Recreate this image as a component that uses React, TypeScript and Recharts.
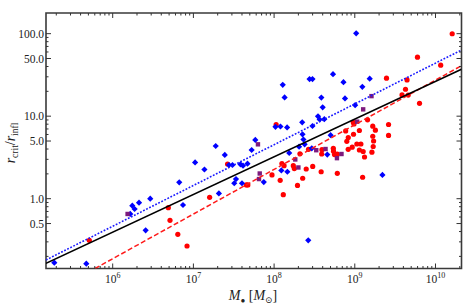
import { ReferenceArea, Scatter, ScatterChart, XAxis, YAxis } from "recharts";

// [M_bh (solar masses), r_crit / r_infl]
const bluePoints: [number, number][] = [
  [1.89e5, 0.168], [4.71e5, 0.163], [1.65e6, 0.653], [1.75e6, 0.823], [1.87e6, 0.75],
  [2.12e6, 0.895], [2.92e6, 1.0], [2.56e6, 0.414], [6.68e6, 1.58], [7.43e6, 0.839],
  [1.05e7, 2.75], [1.37e7, 2.26], [1.89e7, 4.35], [2.45e7, 3.39], [2.07e7, 1.16],
  [2.76e7, 2.56], [3.05e7, 2.56], [3.83e7, 2.61], [4.12e7, 2.51], [4.68e7, 2.66],
  [3.37e7, 1.73], [3.21e7, 1.54], [4.0e7, 1.54], [7.45e7, 1.59], [5.27e7, 3.89],
  [5.85e7, 5.15], [1.04e8, 7.44], [1.2e8, 7.5], [1.45e8, 7.3], [1.28e8, 24.0],
  [1.35e8, 16.9], [1.23e8, 2.2], [1.46e8, 2.12], [1.54e8, 3.58], [2.04e8, 4.27],
  [2.23e8, 8.43], [2.25e8, 6.03], [2.31e8, 5.22], [2.39e8, 4.56], [2.75e8, 28.2],
  [2.99e8, 28.2], [2.65e8, 0.313], [2.93e8, 4.08], [2.99e8, 7.6], [3.5e8, 9.97],
  [3.67e8, 9.12], [4.19e8, 9.2], [3.85e8, 16.8], [4.0e8, 12.8], [4.56e8, 3.43],
  [5.02e8, 5.88], [5.37e8, 32.3], [7.24e8, 25.8], [7.56e8, 16.4], [1.01e9, 13.6],
  [1.04e9, 101], [1.24e9, 22.7], [1.53e9, 28.5], [2.2e9, 1.94],
];

const redPoints: [number, number][] = [
  [5.13e5, 0.313], [4.89e6, 0.778], [5.13e6, 0.547], [6.41e6, 0.37], [8.34e6, 0.267],
  [1.59e7, 1.04], [2.65e7, 2.63], [4.53e7, 1.47], [4.73e7, 1.47], [9.42e7, 1.94],
  [1.06e8, 7.89], [1.19e8, 1.67], [1.3e8, 1.12], [1.25e8, 2.67], [1.33e8, 2.51],
  [1.73e8, 2.51], [1.78e8, 2.32], [2.09e8, 3.5], [1.95e8, 1.45], [2.26e8, 1.77],
  [2.5e8, 2.29], [2.67e8, 3.97], [3.01e8, 2.46], [3.83e8, 2.12], [3.89e8, 3.48],
  [3.92e8, 3.93], [5.42e8, 4.08], [5.45e8, 3.77], [5.61e8, 3.43], [6.07e8, 3.46],
  [6.07e8, 2.03], [7.96e8, 4.96], [8.3e8, 5.52], [8.28e8, 3.97], [7.71e8, 6.62],
  [9.29e8, 4.21], [9.64e8, 6.04], [9.58e8, 8.44], [9.77e8, 8.04], [1.06e9, 4.6],
  [1.19e9, 4.6], [1.14e9, 6.71], [1.14e9, 3.89], [1.27e9, 3.73], [1.32e9, 3.2],
  [1.25e9, 1.82], [1.44e9, 9.04], [1.63e9, 3.66], [1.67e9, 7.57], [1.8e9, 6.76],
  [1.67e9, 5.71], [1.71e9, 5.0], [1.69e9, 4.29], [2.47e9, 28.9], [2.62e9, 7.93],
  [2.62e9, 5.84], [4.44e9, 27.5], [4.25e9, 21.2], [3.85e9, 18.1], [4.59e9, 18.0],
  [5.98e9, 51.9], [6.34e9, 14.3], [1.16e10, 41.5], [1.61e10, 99.7],
];

const purplePoints: [number, number][] = [
  [1.53e6, 0.653], [6.31e7, 4.56], [6.64e7, 2.02], [6.5e7, 1.73], [1.83e8, 2.99],
  [2.0e8, 2.39], [3.33e8, 3.87], [4.34e8, 4.0], [6.84e8, 3.48], [6.01e8, 3.1],
  [1.07e9, 8.58], [1.27e9, 12.1], [1.61e9, 17.5],
];

// fitted power laws, end points
const blackFit: [number, number][] = [[1.4914e5, 0.165], [2.1e10, 37.0]];
const blueFit: [number, number][] = [[1.4914e5, 0.181], [2.1e10, 63.4]];
const redFit: [number, number][] = [[6.04e5, 0.1426], [2.1e10, 40.9]];

const xDomain = [1.4914e5, 2.1e10];
const yDomain = [0.1426, 178];
const xMajorTicks = [1e6, 1e7, 1e8, 1e9, 1e10];
const yMajorTicks = [0.5, 1, 5, 10, 50, 100];
const minorSteps = [2, 3, 4, 5, 6, 7, 8, 9];
const xTicks = [
  ...xMajorTicks,
  ...[1e5, 1e6, 1e7, 1e8, 1e9, 1e10].flatMap((d) => minorSteps.map((s) => s * d)),
].filter((v) => v >= xDomain[0] && v <= xDomain[1]);
const yTicks = [
  ...yMajorTicks,
  ...[0.1, 1, 10, 100].flatMap((d) => [2, 3, 4, 6, 7, 8, 9].map((s) => s * d)),
].filter((v) => v >= yDomain[0] && v <= yDomain[1]);

const W = 463;
const H = 306;
const xAxisH = 30;
const yAxisW = 40;
const margin = { top: 13, right: 1.5, bottom: 37.5 - xAxisH, left: 46 - yAxisW };
const plotTop = 13;
const plotBottom = H - 37.5;
const plotLeft = 46;
const plotRight = W - margin.right;

const font = "'Liberation Serif', 'DejaVu Serif', serif";
const tickColor = "#333";
const frameColor = "#3a3a3a";

const toRows = (pts: [number, number][]) => pts.map(([m, r]) => ({ m, r }));

const isMajor = (list: number[], v: number) => list.some((t) => Math.abs(t - v) / t < 1e-6);

function BottomTick(props: any) {
  const { x, payload } = props;
  const v = payload.value;
  const major = isMajor(xMajorTicks, v);
  const len = major ? 5 : 2.5;
  return (
    <g>
      <line x1={x} x2={x} y1={plotBottom} y2={plotBottom - len} stroke={tickColor} strokeWidth={1} />
      <line x1={x} x2={x} y1={plotTop} y2={plotTop + len} stroke={tickColor} strokeWidth={1} />
      {major && (
        <text x={x} y={plotBottom + 14} textAnchor="middle" fontFamily={font} fontSize={11.5} fill="#222">
          10
          <tspan dy={-5} fontSize={8}>
            {Math.round(Math.log10(v))}
          </tspan>
        </text>
      )}
    </g>
  );
}

function LeftTick(props: any) {
  const { y, payload } = props;
  const v = payload.value;
  const major = isMajor(yMajorTicks, v);
  const len = major ? 5 : 2.5;
  return (
    <g>
      <line x1={plotLeft} x2={plotLeft + len} y1={y} y2={y} stroke={tickColor} strokeWidth={1} />
      <line x1={plotRight} x2={plotRight - len} y1={y} y2={y} stroke={tickColor} strokeWidth={1} />
      {major && (
        <text x={plotLeft - 2} y={y + 4} textAnchor="end" fontFamily={font} fontSize={11.5} fill="#222">
          {v.toFixed(1)}
        </text>
      )}
    </g>
  );
}

const Diamond = (props: any) => {
  const { cx, cy } = props;
  const s = 3.1;
  return <polygon points={`${cx},${cy - s} ${cx + s},${cy} ${cx},${cy + s} ${cx - s},${cy}`} fill="#0000ff" />;
};
const Dot = (props: any) => <circle cx={props.cx} cy={props.cy} r={2.6} fill="#ff0000" />;
const Square = (props: any) => (
  <rect x={props.cx - 2.2} y={props.cy - 2.2} width={4.4} height={4.4} fill="#7d1a7d" />
);
const Nothing = () => <g />;

export default function App() {
  return (
    <div style={{ position: "absolute", left: 0, top: 0, background: "#fff" }}>
      <ScatterChart width={W} height={H} margin={margin}>
        <XAxis
          xAxisId="b"
          type="number"
          dataKey="m"
          scale="log"
          domain={xDomain}
          allowDataOverflow
          ticks={xTicks}
          interval={0}
          height={xAxisH}
          tickSize={0}
          tickMargin={0}
          axisLine={false}
          tickLine={false}
          tick={(p: any) => <BottomTick {...p} />}
        />
        <YAxis
          yAxisId="l"
          type="number"
          dataKey="r"
          scale="log"
          domain={yDomain}
          allowDataOverflow
          ticks={yTicks}
          interval={0}
          width={yAxisW}
          tickSize={0}
          tickMargin={0}
          axisLine={false}
          tickLine={false}
          tick={(p: any) => <LeftTick {...p} />}
        />
        <ReferenceArea
          xAxisId="b"
          yAxisId="l"
          x1={xDomain[0]}
          x2={xDomain[1]}
          y1={yDomain[0]}
          y2={yDomain[1]}
          ifOverflow="visible"
          fill="none"
          stroke={frameColor}
          strokeWidth={1.6}
        />
        <Scatter xAxisId="b" yAxisId="l" data={toRows(redPoints)} shape={<Dot />} isAnimationActive={false} />
        <Scatter xAxisId="b" yAxisId="l" data={toRows(bluePoints)} shape={<Diamond />} isAnimationActive={false} />
        <Scatter xAxisId="b" yAxisId="l" data={toRows(purplePoints)} shape={<Square />} isAnimationActive={false} />
        <Scatter
          xAxisId="b"
          yAxisId="l"
          data={toRows(blueFit)}
          shape={<Nothing />}
          line={{ stroke: "#1a1aff", strokeWidth: 1.6, strokeDasharray: "1.8 1.6" }}
          isAnimationActive={false}
        />
        <Scatter
          xAxisId="b"
          yAxisId="l"
          data={toRows(redFit)}
          shape={<Nothing />}
          line={{ stroke: "#ff1a1a", strokeWidth: 1.5, strokeDasharray: "5 2.5" }}
          isAnimationActive={false}
        />
        <Scatter
          xAxisId="b"
          yAxisId="l"
          data={toRows(blackFit)}
          shape={<Nothing />}
          line={{ stroke: "#000", strokeWidth: 1.6 }}
          isAnimationActive={false}
        />
        <text x={253} y={300} textAnchor="middle" fontFamily={font} fontSize={14} fill="#222">
          <tspan fontStyle="italic">M</tspan>
          <tspan dy={3} fontSize={8}>●</tspan>
          <tspan dy={-3}> [</tspan>
          <tspan fontStyle="italic">M</tspan>
          <tspan dy={3} fontSize={9}>⊙</tspan>
          <tspan dy={-3}>]</tspan>
        </text>
        <text
          transform="translate(15,143) rotate(-90)"
          textAnchor="middle"
          fontFamily={font}
          fontSize={14}
          fill="#222"
        >
          <tspan fontStyle="italic">r</tspan>
          <tspan dy={3} fontSize={9.5}>crit</tspan>
          <tspan dy={-3}>/</tspan>
          <tspan fontStyle="italic">r</tspan>
          <tspan dy={3} fontSize={9.5}>infl</tspan>
        </text>
      </ScatterChart>
    </div>
  );
}
